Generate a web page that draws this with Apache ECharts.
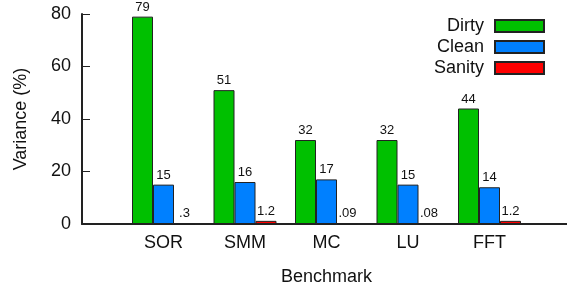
<!DOCTYPE html>
<html><head><meta charset="utf-8">
<script src="https://cdn.jsdelivr.net/npm/echarts@6/dist/echarts.min.js"></script>
<style>html,body{margin:0;padding:0;background:#fff}#c{width:567px;height:288px}</style>
</head><body><div id="c"></div>
<script>
const categories = ['', 'SOR', 'SMM', 'MC', 'LU', 'FFT', ''];
const dirty = [null, 79, 51, 32, 32, 44, null];
const clean = [null, 15, 16, 17, 15, 14, null];
const sanity = [null, 0.3, 1.2, 0.09, 0.08, 1.2, null];
const yTicks = [0, 20, 40, 60, 80];

const font = 'Liberation Sans, Arial, Helvetica, sans-serif';
function fmt(p) {
  const v = p.value;
  if (v == null) return '';
  let s = String(v);
  if (s.startsWith('0.')) s = s.slice(1);
  return s;
}
function mk(name, data, color) {
  return {
    name: name, type: 'bar', data: data, barWidth: 21, barGap: '0%',
    itemStyle: { color: color, borderColor: '#222', borderWidth: 1 },
    label: { show: true, position: 'top', distance: 3, formatter: fmt,
      fontFamily: font, fontSize: 13, color: '#111' }
  };
}
const chart = echarts.init(document.getElementById('c'), null, { renderer: 'canvas' });
chart.setOption({
  animation: false,
  grid: { left: 82, top: 14, bottom: 64, right: -4, containLabel: false, outerBoundsMode: 'none' },
  legend: {
    orient: 'vertical', right: 22, top: 17, align: 'right', padding: 0,
    itemWidth: 49, itemHeight: 12, itemGap: 3,
    icon: 'rect',
    data: ['Dirty', 'Clean', 'Sanity'],
    textStyle: { fontFamily: font, fontSize: 18, color: '#111', padding: [0, 6, 0, 0] },
    selectedMode: false
  },
  xAxis: {
    type: 'category', data: categories, boundaryGap: false,
    name: 'Benchmark', nameLocation: 'middle', nameGap: 44,
    nameTextStyle: { fontFamily: font, fontSize: 18, color: '#111' },
    axisLine: { lineStyle: { color: '#222', width: 2 } },
    axisTick: { show: false },
    axisLabel: { fontFamily: font, fontSize: 18, color: '#111', margin: 10, interval: 0 },
    splitLine: { show: false }
  },
  yAxis: {
    type: 'value', min: yTicks[0], max: yTicks[yTicks.length - 1], interval: 20,
    name: 'Variance (%)', nameLocation: 'middle', nameGap: 52,
    nameTextStyle: { fontFamily: font, fontSize: 18, color: '#111' },
    axisLine: { show: true, lineStyle: { color: '#222', width: 2 } },
    axisTick: { show: true, inside: true, length: 8, lineStyle: { color: '#222', width: 1 } },
    axisLabel: { fontFamily: font, fontSize: 18, color: '#111', margin: 11 },
    splitLine: { show: false }
  },
  series: [
    mk('Dirty', dirty, '#00c000'),
    mk('Clean', clean, '#0080ff'),
    mk('Sanity', sanity, '#ff0000')
  ]
});
</script></body></html>
